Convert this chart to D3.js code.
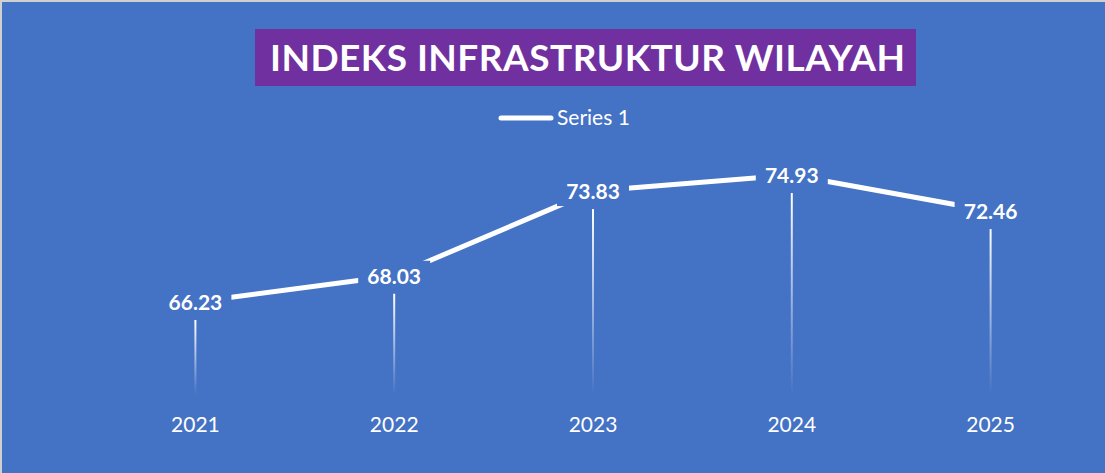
<!DOCTYPE html>
<html><head><meta charset="utf-8">
<script src="https://cdn.jsdelivr.net/npm/d3@7"></script>
<style>html,body{margin:0;padding:0;background:#fff;}svg{display:block;}</style>
</head><body>
<svg id="c" width="1105" height="473"></svg>
<script>
const categories = ["2021","2022","2023","2024","2025"];
const values = [66.23, 68.03, 73.83, 74.93, 72.46];
const seriesName = "Series 1";
const titleText = "INDEKS INFRASTRUKTUR WILAYAH";
const yDomain = [60, 80];

const W = 1105, H = 473;
const svg = d3.select("#c");
const blue = "#4472C4";
svg.append("rect").attr("width", W).attr("height", H).attr("fill", "#d0d0d0");
svg.append("rect").attr("x", 2).attr("y", 2).attr("width", W - 2).attr("height", H - 2).attr("fill", blue);

const defs = svg.append("defs");
const grad = defs.append("linearGradient").attr("id", "drop").attr("x1", 0).attr("y1", 0).attr("x2", 0).attr("y2", 1);
grad.append("stop").attr("offset", "0%").attr("stop-color", "#fff").attr("stop-opacity", 1);
grad.append("stop").attr("offset", "100%").attr("stop-color", "#fff").attr("stop-opacity", 0);

const x = d3.scaleBand().domain(categories).range([96, 1090]);
const y = d3.scaleLinear().domain(yDomain).range([393, 101]);
const cx = d => x(d) + x.bandwidth() / 2;

// title
const tg = svg.append("g");
tg.append("rect").attr("x", 255).attr("y", 29).attr("width", 661).attr("height", 57).attr("fill", "#7030A0");
tg.append("text").attr("x", 270).attr("y", 71)
  .attr("fill", "#fff").attr("font-family", "Lato, 'Open Sans', sans-serif").attr("font-weight", "bold")
  .attr("font-size", 37).attr("textLength", 635).attr("lengthAdjust", "spacing").text(titleText);

// legend
svg.append("line").attr("x1", 501).attr("x2", 551).attr("y1", 118).attr("y2", 118)
  .attr("stroke", "#fff").attr("stroke-width", 5).attr("stroke-linecap", "round");
svg.append("text").attr("x", 557).attr("y", 125).attr("fill", "#fff")
  .attr("font-family", "Lato, 'Open Sans', sans-serif").attr("font-size", 21).text(seriesName);

const data = categories.map((c, i) => ({c, v: values[i]}));

// drop lines
svg.selectAll(".drop").data(data).join("rect").attr("class", "drop")
  .attr("x", d => cx(d.c) - 1).attr("width", 2)
  .attr("y", d => y(d.v) + 18).attr("height", d => y(yDomain[0]) + 2 - (y(d.v) + 18))
  .attr("fill", "url(#drop)");

// line
svg.append("path").datum(data)
  .attr("d", d3.line().x(d => cx(d.c)).y(d => y(d.v)))
  .attr("fill", "none").attr("stroke", "#fff").attr("stroke-width", 5).attr("stroke-linejoin", "round");

// labels
const lg = svg.selectAll(".lbl").data(data).join("g").attr("class", "lbl")
  .attr("transform", d => `translate(${cx(d.c)},${y(d.v)})`);
lg.append("rect").attr("x", -36).attr("y", -15).attr("width", 72).attr("height", 30).attr("fill", blue);
lg.append("text").attr("text-anchor", "middle").attr("y", 8).attr("fill", "#fff")
  .attr("font-family", "Lato, 'Open Sans', sans-serif").attr("font-weight", "bold").attr("font-size", 21)
  .text(d => d.v.toFixed(2));

// x axis labels
const xa = svg.append("g").attr("transform", `translate(0,${y(yDomain[0])})`)
  .call(d3.axisBottom(x).tickSize(0).tickPadding(24));
xa.select(".domain").remove();
xa.selectAll("text").attr("fill", "#fff").attr("font-family", "Lato, 'Open Sans', sans-serif").attr("font-size", 21);
</script>
</body></html>
